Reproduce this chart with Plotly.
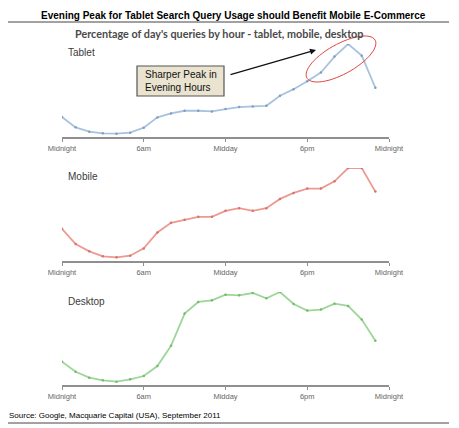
import numpy as np
import plotly.graph_objects as go
from plotly.subplots import make_subplots

# Hour of day, 0 = midnight
hours = list(range(24))

# Relative query volume by hour (common scale per panel)
tablet = [60, 29, 16, 11, 10, 13, 28, 59, 71, 79, 79, 77, 84, 90, 92, 94,
          124, 144, 168, 194, 242, 280, 245, 148]
mobile = [97, 51, 29, 14, 11, 16, 38, 86, 115, 124, 133, 133, 151, 159, 151, 159,
          187, 205, 218, 218, 240, 280, 280, 209]
desktop = [70, 40, 22, 14, 10, 17, 27, 57, 118, 215, 250, 255, 272, 270, 277, 261,
           280, 244, 224, 227, 245, 238, 197, 133]

tick_hours = [0, 6, 12, 18, 24]
tick_labels = ["Midnight", "6am", "Midday", "6pm", "Midnight"]

panels = ["Tablet", "Mobile", "Desktop"]
series = [tablet, mobile, desktop]
line_colors = ["#a9c3df", "#ec9a92", "#9ed699"]
dot_colors = ["#7f9fc4", "#d8746b", "#74bb6e"]

W, H = 459, 428
OFF = 8  # page margin around the plot div


def px_x(x):
    return (x - OFF) / W


def px_y(y):
    return 1 - (y - OFF) / H


# axis baseline and top of each panel, in pixels
panel_px = [(137, 44), (261, 168), (385, 292)]

fig = make_subplots(rows=3, cols=1)

for i, (name, vals) in enumerate(zip(panels, series)):
    fig.add_trace(
        go.Scatter(x=hours, y=vals, mode="lines+markers", name=name,
                   line=dict(color=line_colors[i], width=1.8),
                   marker=dict(color=dot_colors[i], size=2.5)),
        row=i + 1, col=1,
    )
    bottom, top = panel_px[i]
    fig.update_xaxes(range=[0, 24], domain=[px_x(62), px_x(389)],
                     tickvals=tick_hours, ticktext=tick_labels, automargin=False,
                     showgrid=False, zeroline=False, showline=True,
                     linecolor="#8f8f8f", linewidth=1.5,
                     ticks="outside", ticklen=3, tickcolor="#8f8f8f",
                     tickfont=dict(family="Liberation Sans", size=7.5, color="#666666"),
                     row=i + 1, col=1)
    fig.update_yaxes(range=[0, 280], domain=[px_y(bottom), px_y(top)],
                     visible=False, automargin=False, row=i + 1, col=1)
    fig.add_annotation(text=name, xref="paper", yref="paper",
                       x=px_x(66), y=px_y([52, 176, 301][i]),
                       xanchor="left", yanchor="middle", showarrow=False,
                       font=dict(family="Liberation Sans", size=10, color="#3a3a3a"))

# titles and source
fig.add_annotation(text="<b>Evening Peak for Tablet Search Query Usage should Benefit Mobile E-Commerce</b>",
                   xref="paper", yref="paper", x=px_x(233), y=1,
                   xanchor="center", yanchor="top", showarrow=False,
                   font=dict(family="Liberation Sans", size=10, color="#000000"))
fig.add_annotation(text="<b>Percentage of day's queries by hour - tablet, mobile, desktop</b>",
                   xref="paper", yref="paper", x=px_x(219), y=px_y(34),
                   xanchor="center", yanchor="middle", showarrow=False,
                   font=dict(family="Lato", size=10.8, color="#4a4a4a"))
fig.add_annotation(text="Source: Google, Macquarie Capital (USA), September 2011",
                   xref="paper", yref="paper", x=px_x(7), y=px_y(415),
                   xanchor="left", yanchor="middle", showarrow=False,
                   font=dict(family="Liberation Sans", size=8, color="#000000"))

# callout box with arrow
fig.add_shape(type="rect", xref="paper", yref="paper",
              x0=px_x(137), x1=px_x(224), y0=px_y(96), y1=px_y(66),
              fillcolor="#e9e3cf", line=dict(color="#555555", width=1.2))
fig.add_annotation(text="Sharper Peak in<br>Evening Hours", xref="paper", yref="paper",
                   x=px_x(143), y=px_y(81), xanchor="left", yanchor="middle",
                   align="left", showarrow=False,
                   font=dict(family="Liberation Sans", size=10, color="#111111"))
fig.add_annotation(xref="paper", yref="paper", axref="pixel", ayref="pixel",
                   x=px_x(316), y=px_y(50), ax=229 - 316, ay=75 - 50,
                   text="", showarrow=True, arrowhead=2, arrowsize=1,
                   arrowwidth=1.2, arrowcolor="#111111")

# red ellipse around the tablet peak
t = np.linspace(0, 2 * np.pi, 60)
ang = np.radians(29)
a, b = 39, 15
cx, cy = 341, 59
ex = cx + a * np.cos(t) * np.cos(ang) - b * np.sin(t) * np.sin(ang)
ey = cy - (a * np.cos(t) * np.sin(ang) + b * np.sin(t) * np.cos(ang))
path = "M " + " L ".join(f"{px_x(x):.4f},{px_y(y):.4f}" for x, y in zip(ex, ey)) + " Z"
fig.add_shape(type="path", xref="paper", yref="paper", path=path,
              line=dict(color="#e0463c", width=1))

# rules under the title and under the source
for y in (22, 423):
    fig.add_shape(type="line", xref="paper", yref="paper",
                  x0=px_x(8), x1=px_x(449), y0=px_y(y), y1=px_y(y),
                  line=dict(color="#444444", width=1))

fig.update_layout(width=W, height=H, showlegend=False,
                  margin=dict(l=0, r=0, t=0, b=0),
                  paper_bgcolor="white", plot_bgcolor="white")

fig.write_html("out.html")
